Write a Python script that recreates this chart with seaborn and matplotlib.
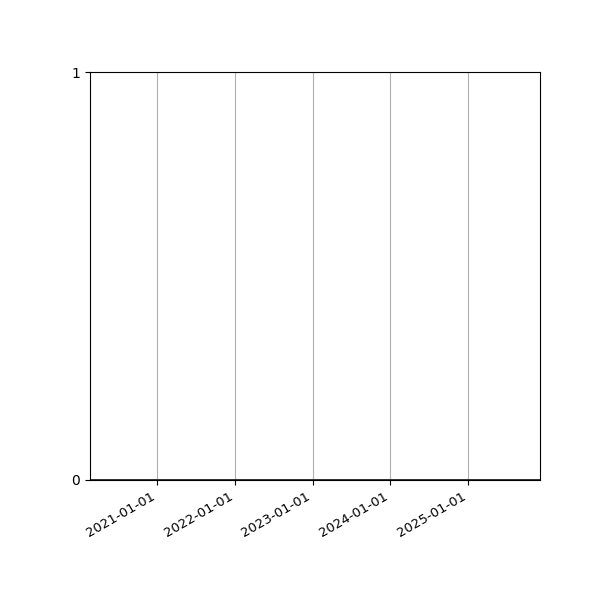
import matplotlib
matplotlib.use("Agg")
import matplotlib.pyplot as plt
import matplotlib.dates as mdates
import seaborn as sns
import pandas as pd

dates = ["2020-02-19", "2021-01-01", "2022-01-01", "2023-01-01", "2024-01-01", "2025-01-01", "2025-12-05"]
values = [0, 0, 0, 0, 0, 0, 0]
tick_dates = ["2021-01-01", "2022-01-01", "2023-01-01", "2024-01-01", "2025-01-01"]
y_ticks = [0, 1]

df = pd.DataFrame({"date": pd.to_datetime(dates), "value": values})

plt.rcParams['font.family'] = ['DejaVu Sans']
fig, ax = plt.subplots(figsize=(6, 6), dpi=100)
sns.lineplot(data=df, x="date", y="value", ax=ax, color="blue", linewidth=2)
ax.set_xlim(df["date"].min(), df["date"].max())
ax.set_ylim(0, 1)
ax.set_yticks(y_ticks)
ax.set_xticks(pd.to_datetime(tick_dates))
ax.xaxis.set_major_formatter(mdates.DateFormatter("%Y-%m-%d"))
ax.tick_params(axis="x", labelsize=9.5)
ax.grid(axis="x", color="#b0b0b0", linewidth=0.8)
ax.set_xlabel("")
ax.set_ylabel("")
fig.autofmt_xdate()
fig.subplots_adjust(left=0.15, right=0.9, top=0.88, bottom=0.2)
fig.savefig("out.png", dpi=100)
